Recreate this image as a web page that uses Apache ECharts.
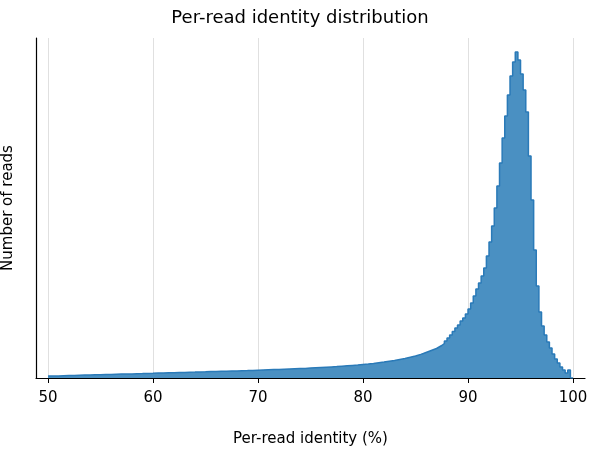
<!DOCTYPE html><html><head><meta charset="utf-8"><script src="https://cdn.jsdelivr.net/npm/echarts@6/dist/echarts.min.js"></script></head><body style="margin:0"><div id="c" style="width:600px;height:450px"></div><script>
const coarseStart=50, coarseStep=0.5;
const coarseCounts=[2,2,2,2.3,2.5,2.6,2.8,3,3,3.2,3.3,3.5,3.6,3.8,3.9,4,4.1,4.3,4.4,4.6,
4.7,4.9,5,5.2,5.3,5.5,5.6,5.8,5.9,6.1,6.2,6.4,6.5,6.7,6.8,7,7.1,7.3,7.4,7.6,
7.8,8,8.2,8.4,8.6,8.8,9,9.2,9.4,9.6,9.9,10.2,10.5,10.8,11.1,11.4,11.8,12.2,12.6,13,
13.5,14,14.6,15.3,16,16.8,17.6,18.6,19.6,20.8];
const fineStart=85, fineStep=0.25;
const fineCounts=[22,22.8,23.6,24.5,25.5,26.5,27.5,28.5,29.5,31,32.5,34.5,37,40,43,46.5,50,53,57,60,
64,69,75,82,89,95,102,110,122,136,152,170,192,215,240,262,283,302,316,326,
318,304,288,266,222,178,128,92,66,52,43,36,30,24,19,15,11,8,5,8];
const xTicks=[50,60,70,80,90,100];
const pts=[];
coarseCounts.forEach((v,i)=>pts.push([coarseStart+i*coarseStep,v]));
fineCounts.forEach((v,i)=>pts.push([fineStart+i*fineStep,v]));
pts.push([100,0]);
const ch=echarts.init(document.getElementById('c'));
const f='DejaVu Sans';
ch.setOption({
title:{text:'Per-read identity distribution',left:'center',top:4,textStyle:{fontFamily:f,fontSize:18,fontWeight:'normal',color:'#000'}},
grid:{left:36,right:15,top:38,bottom:72,outerBoundsMode:'none',containLabel:false},
xAxis:{type:'value',min:48.86,max:101.14,name:'Per-read identity (%)',nameLocation:'middle',nameGap:54,
nameTextStyle:{fontFamily:f,fontSize:15,color:'#000'},
axisLine:{lineStyle:{color:'#000',width:1.2}},
axisTick:{customValues:xTicks,length:5,lineStyle:{color:'#000'}},
axisLabel:{customValues:xTicks,fontFamily:f,fontSize:15,color:'#000',margin:13},
splitLine:{show:true,customValues:[60,70,80,90,100],lineStyle:{color:'#e0e0e0'}}},
yAxis:{type:'value',min:0,max:340,name:'Number of reads',nameLocation:'middle',nameGap:20,
nameTextStyle:{fontFamily:f,fontSize:15,color:'#000'},
axisLine:{show:true,lineStyle:{color:'#000',width:1.2}},axisTick:{show:false},axisLabel:{show:false},splitLine:{show:false}},
series:[{type:'line',step:'start',data:pts,symbol:'none',
lineStyle:{color:'#2a7ab8',width:1.5},areaStyle:{color:'#4a90c2',opacity:1}}]
});
</script></body></html>
